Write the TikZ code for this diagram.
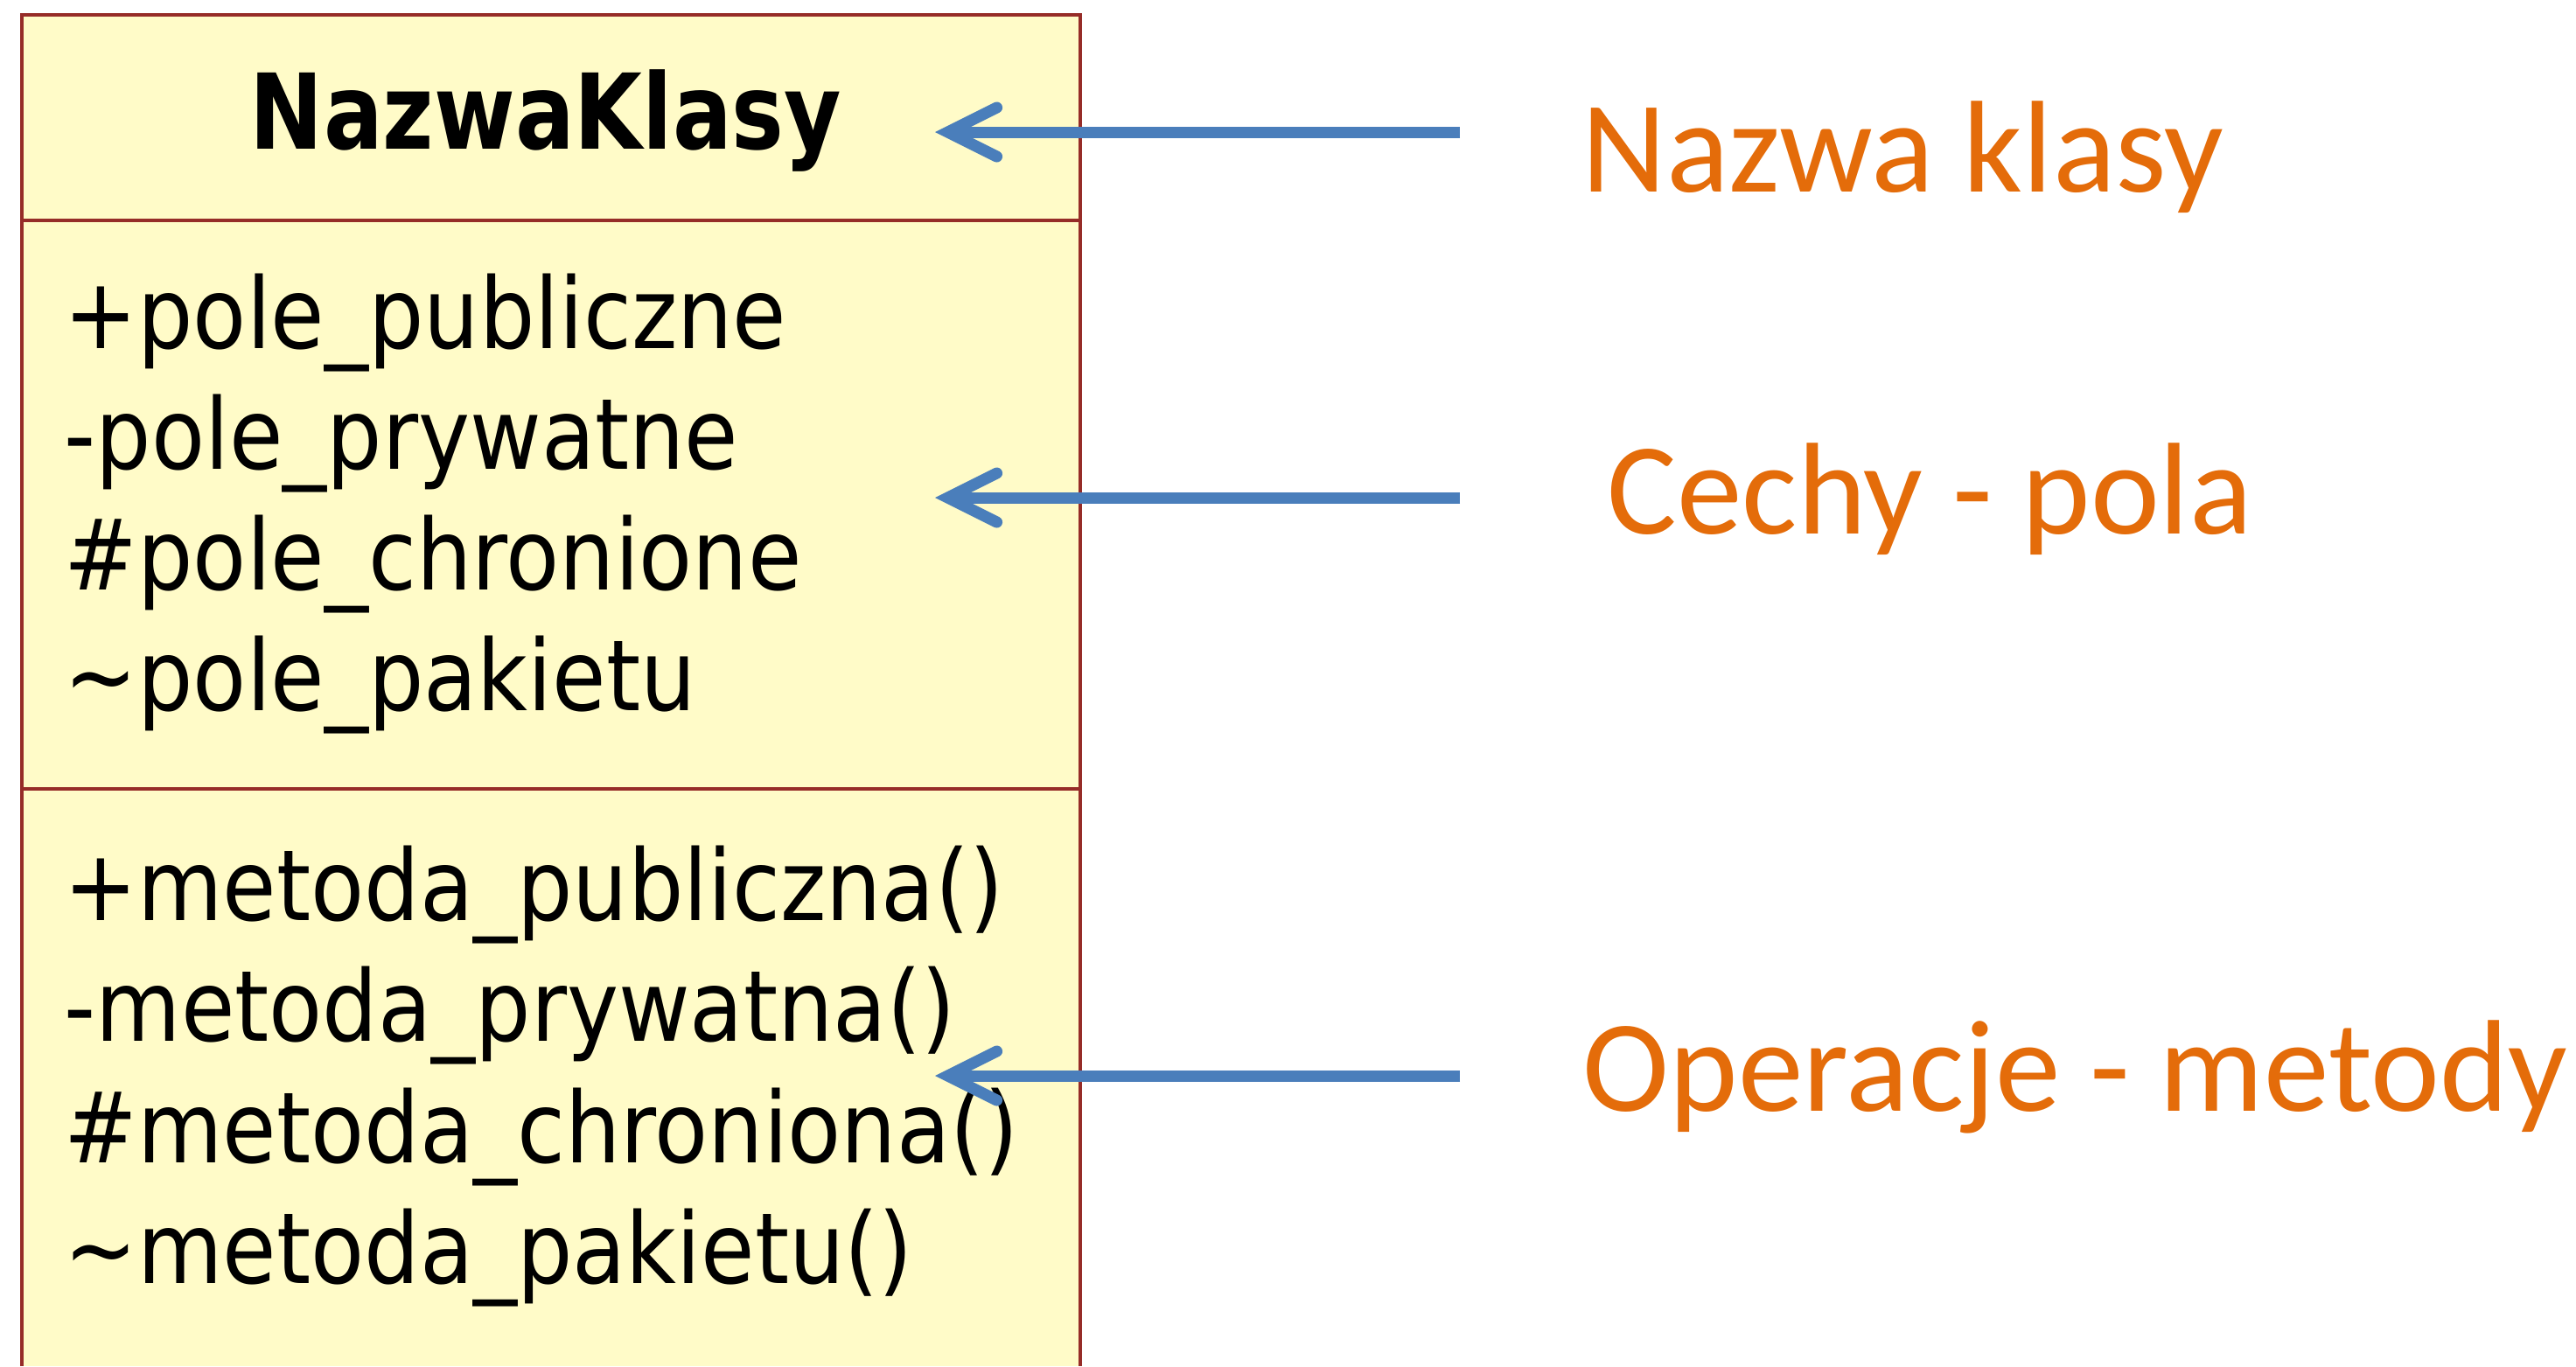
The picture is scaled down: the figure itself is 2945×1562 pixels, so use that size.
\documentclass[tikz,border=0pt]{standalone}
\usepackage{fontspec}
\setmainfont{Carlito}
\newfontfamily\umlfont[FakeStretch=0.888]{DejaVu Sans}
\newfontfamily\umltitle[FakeStretch=0.84]{DejaVu Sans}
\usetikzlibrary{arrows.meta}
\definecolor{umlfill}{RGB}{255,251,200}
\definecolor{umlline}{RGB}{150,44,40}
\definecolor{callout}{RGB}{74,126,187}
\definecolor{notetext}{RGB}{228,108,10}
\begin{document}
\begin{tikzpicture}[x=0.01cm,y=-0.01cm,
  member/.style={anchor=base west, inner sep=0pt, font=\umlfont\fontsize{32}{38}\selectfont},
  classname/.style={anchor=base, inner sep=0pt, font=\umltitle\bfseries\fontsize{34}{40}\selectfont},
  note/.style={anchor=base west, inner sep=0pt, text=notetext, font=\fontsize{42.5}{50}\selectfont},
  border/.style={umlline, line width=1.4pt},
  pointer/.style={draw=callout, line width=3.7pt,
    -{Straight Barb[length=5.6mm,width=5.6mm,line cap=round,line join=miter]}},
  ]
\useasboundingbox (0,0) rectangle (2945,1562);

% class box, open at the bottom edge of the page
\fill[umlfill] (25,17) rectangle (1235,1562);
\draw[border] (25,1562) -- (25,17) -- (1235,17) -- (1235,1562);
\draw[border] (25,252) -- (1235,252);
\draw[border] (25,902) -- (1235,902);

% class name
\node[classname] (cls) at (624,170) {NazwaKlasy};

% attributes
\node[member] (f1) at (73,398) {+pole\_publiczne};
\node[member] (f2) at (73,536) {-pole\_prywatne};
\node[member] (f3) at (73,674) {\#pole\_chronione};
\node[member] (f4) at (73,812) {\textasciitilde pole\_pakietu};

% operations
\node[member] (m1) at (73,1052) {+metoda\_publiczna()};
\node[member] (m2) at (73,1190) {-metoda\_prywatna()};
\node[member] (m3) at (73,1329) {\#metoda\_chroniona()};
\node[member] (m4) at (73,1467) {\textasciitilde metoda\_pakietu()};

% explanations
\node[note] (nName) at (1808,219) {Nazwa klasy};
\node[note] (nAttr) at (1837,610) {Cechy - pola};
\node[note] (nOper) at (1809,1270) {Operacje - metody};

% pointers from the explanations to the compartments
\coordinate (nameTail) at (1669,151);
\coordinate (nameTip)  at (1069,151);
\coordinate (attrTail) at (1669,569);
\coordinate (attrTip)  at (1069,569);
\coordinate (operTail) at (1669,1230);
\coordinate (operTip)  at (1069,1230);
\draw[pointer] (nameTail) -- (nameTip);
\draw[pointer] (attrTail) -- (attrTip);
\draw[pointer] (operTail) -- (operTip);
\end{tikzpicture}
\end{document}
